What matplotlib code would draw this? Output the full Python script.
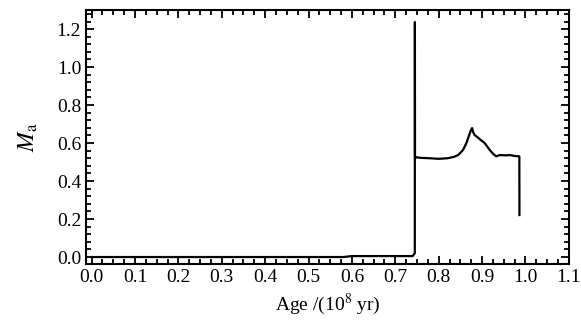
import matplotlib
matplotlib.use('Agg')
import matplotlib.pyplot as plt
from matplotlib.ticker import MultipleLocator, FormatStrFormatter

# age in 1e8 yr, accretion value M_a
age = [0.0, 0.58, 0.60, 0.74, 0.745, 0.7452, 0.7455, 0.748, 0.76, 0.78, 0.80, 0.82,
       0.835, 0.845, 0.856, 0.864, 0.870, 0.874, 0.877, 0.880, 0.883, 0.889, 0.895,
       0.906, 0.918, 0.927, 0.933, 0.941, 0.955, 0.964, 0.975, 0.986, 0.9862]
m_a = [0.0, 0.0, 0.005, 0.005, 0.02, 1.237, 0.52, 0.525, 0.522, 0.52, 0.517, 0.52,
       0.527, 0.537, 0.563, 0.60, 0.64, 0.665, 0.679, 0.655, 0.642, 0.632, 0.62,
       0.60, 0.563, 0.54, 0.53, 0.537, 0.535, 0.537, 0.532, 0.53, 0.221]

plt.rcParams['font.family'] = ['Liberation Serif', 'DejaVu Serif']
plt.rcParams['mathtext.fontset'] = 'stix'

fig = plt.figure(figsize=(5.81, 3.26), dpi=100)
ax = fig.add_axes([0.148, 0.190, 0.831, 0.779])

ax.plot(age, m_a, color='black', lw=1.6)

ax.set_xlim(-0.013, 1.1)
ax.set_ylim(-0.037, 1.30)
ax.xaxis.set_major_locator(MultipleLocator(0.1))
ax.xaxis.set_minor_locator(MultipleLocator(0.025))
ax.yaxis.set_major_locator(MultipleLocator(0.2))
ax.yaxis.set_minor_locator(MultipleLocator(0.04))
ax.xaxis.set_major_formatter(FormatStrFormatter('%.1f'))
ax.yaxis.set_major_formatter(FormatStrFormatter('%.1f'))
ax.tick_params(which='both', direction='in', top=True, right=True, labelsize=14, width=1.3)
ax.tick_params(which='major', length=6)
ax.tick_params(which='minor', length=3.5)
for s in ax.spines.values():
    s.set_linewidth(1.5)

ax.set_xlabel('Age /(10$^{8}$ yr)', fontsize=14)
ax.set_ylabel('$M_{\\rm a}$', fontsize=17, labelpad=12)

fig.savefig('out.png', dpi=100)
